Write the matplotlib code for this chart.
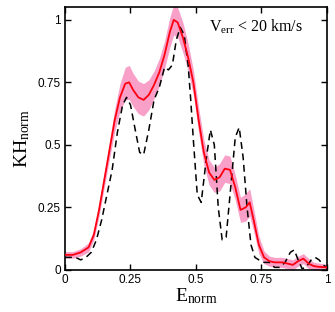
import numpy as np
import matplotlib
matplotlib.use("Agg")
import matplotlib.pyplot as plt

plt.rcParams['font.family'] = 'Liberation Sans'
plt.rcParams['mathtext.fontset'] = 'custom'
plt.rcParams['mathtext.rm'] = 'Liberation Serif'
plt.rcParams['mathtext.it'] = 'Liberation Serif:italic'

# smoothed KH curve (red) with its uncertainty band
x_red = [0, 0.03, 0.06, 0.09, 0.11, 0.13, 0.15, 0.17, 0.19, 0.21, 0.23, 0.245,
         0.26, 0.28, 0.30, 0.32, 0.34, 0.36, 0.38, 0.40, 0.415, 0.43, 0.45, 0.47,
         0.49, 0.51, 0.53, 0.55, 0.57, 0.59, 0.61, 0.63, 0.65, 0.67, 0.69, 0.705,
         0.72, 0.74, 0.76, 0.78, 0.80, 0.83, 0.85, 0.87, 0.89, 0.91, 0.93, 0.95,
         0.97, 1.0]
y_red = [0.06, 0.06, 0.07, 0.09, 0.14, 0.24, 0.36, 0.48, 0.60, 0.69, 0.745, 0.75,
         0.72, 0.69, 0.68, 0.70, 0.74, 0.79, 0.86, 0.95, 1.0, 0.99, 0.93, 0.85,
         0.75, 0.60, 0.47, 0.39, 0.36, 0.37, 0.405, 0.40, 0.33, 0.24, 0.25, 0.27,
         0.20, 0.10, 0.05, 0.035, 0.03, 0.03, 0.025, 0.02, 0.035, 0.045, 0.025, 0.015,
         0.012, 0.01]
err_red = [0.013, 0.013, 0.015, 0.018, 0.02, 0.025, 0.03, 0.035, 0.045, 0.055, 0.065, 0.068,
           0.066, 0.065, 0.065, 0.06, 0.055, 0.055, 0.055, 0.06, 0.06, 0.06, 0.06, 0.055,
           0.05, 0.05, 0.05, 0.05, 0.05, 0.055, 0.055, 0.055, 0.05, 0.05, 0.055, 0.055,
           0.045, 0.035, 0.025, 0.02, 0.02, 0.02, 0.02, 0.02, 0.02, 0.02, 0.02, 0.015,
           0.015, 0.012]

# raw KH curve (dashed black)
x_raw = [0, 0.02, 0.04, 0.06, 0.08, 0.10, 0.12, 0.14, 0.16, 0.18, 0.20, 0.22, 0.235,
         0.25, 0.27, 0.285, 0.30, 0.32, 0.34, 0.36, 0.38, 0.395, 0.41, 0.425, 0.44,
         0.455, 0.47, 0.48, 0.49, 0.505, 0.52, 0.54, 0.555, 0.57, 0.585, 0.60, 0.615,
         0.63, 0.65, 0.665, 0.68, 0.695, 0.71, 0.725, 0.74, 0.76, 0.78, 0.80, 0.82,
         0.84, 0.86, 0.875, 0.89, 0.905, 0.92, 0.94, 0.955, 0.97, 0.985, 1.0]
y_raw = [0.05, 0.05, 0.05, 0.04, 0.05, 0.07, 0.12, 0.2, 0.3, 0.4, 0.55, 0.66, 0.69,
         0.66, 0.55, 0.47, 0.46, 0.56, 0.68, 0.73, 0.81, 0.80, 0.82, 0.92, 0.97,
         0.94, 0.82, 0.68, 0.52, 0.30, 0.27, 0.45, 0.56, 0.50, 0.25, 0.12, 0.13,
         0.30, 0.53, 0.57, 0.45, 0.25, 0.10, 0.05, 0.04, 0.03, 0.03, 0.01, 0.01,
         0.03, 0.07, 0.08, 0.04, 0.005, 0.01, 0.04, 0.05, 0.04, 0.02, 0.01]

ticks = [0, 0.25, 0.5, 0.75, 1]
tick_labels = ['0', '0.25', '0.5', '0.75', '1']

fig = plt.figure(figsize=(3.35, 3.12), dpi=100)
ax = fig.add_axes([0.194, 0.135, 0.782, 0.843])

xr = np.array(x_red)
yr = np.array(y_red)
er = np.array(err_red)
ax.fill_between(xr, yr - er, yr + er, color='#f9a0c8', lw=0, zorder=1)
ax.plot(x_raw, y_raw, color='black', lw=1.1, dashes=(4.5, 3), zorder=2)
ax.plot(xr, yr, color='#ff0010', lw=1.3, zorder=3)

ax.set_xlim(0, 1)
ax.set_ylim(0, 1.052)
ax.set_xticks(ticks)
ax.set_xticklabels(tick_labels)
ax.set_yticks(ticks)
ax.set_yticklabels(tick_labels)
ax.tick_params(direction='in', top=True, right=True, length=4, width=1,
               labelsize=8.5, pad=3)
for s in ax.spines.values():
    s.set_linewidth(1.2)

ax.set_xlabel(r'$\mathrm{E}_{\mathrm{norm}}$', fontsize=14, labelpad=0)
ax.set_ylabel(r'$\mathrm{KH}_{\mathrm{norm}}$', fontsize=14, labelpad=4)
ax.text(0.91, 0.925, r'$\mathrm{V}_{\mathrm{err}}$ < 20 km/s', transform=ax.transAxes,
        ha='right', va='center', fontsize=11.5, family='Liberation Serif')

fig.savefig('out.png', dpi=100)
